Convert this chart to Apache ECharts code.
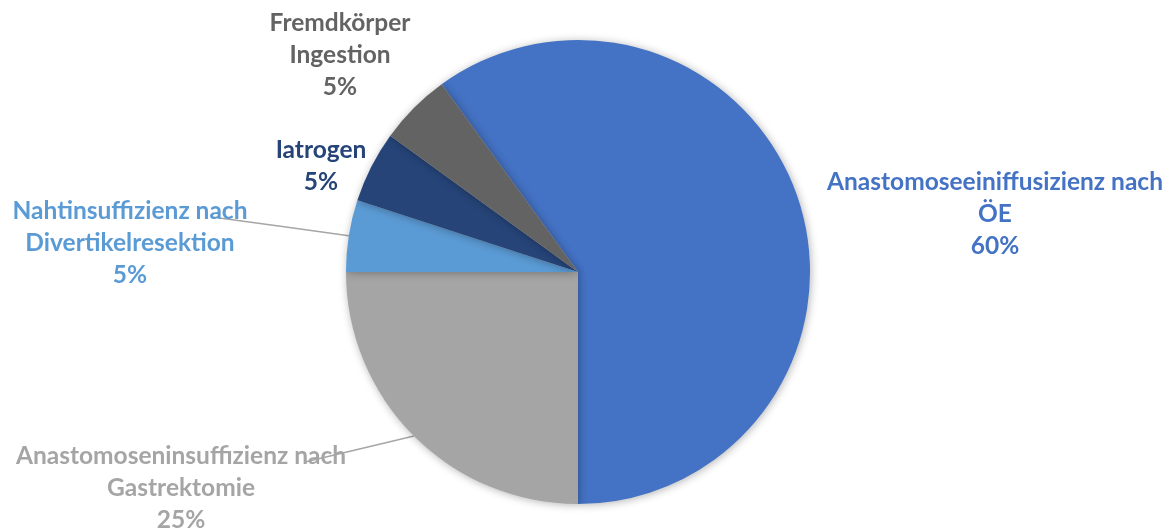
<!DOCTYPE html>
<html>
<head>
<meta charset="utf-8">
<script src="https://cdn.jsdelivr.net/npm/echarts@6/dist/echarts.min.js"></script>
<style>
  html, body { margin: 0; padding: 0; background: #fff; }
  #chart { width: 1170px; height: 530px; }
</style>
</head>
<body>
<div id="chart"></div>
<script>
var categories = [
  'Anastomoseeiniffusizienz nach\nÖE',
  'Anastomoseninsuffizienz nach\nGastrektomie',
  'Nahtinsuffizienz nach\nDivertikelresektion',
  'Iatrogen',
  'Fremdkörper\nIngestion'
];
var values = [60, 25, 5, 5, 5];
var colors = ['#4472C4', '#A5A5A5', '#5B9BD5', '#264478', '#636363'];
// where Excel put each label (centre of text block) and where its leader line stops
var labelPos = [[995, 214], [181, 488], [130, 243], [321, 166], [340, 55]];
var lineEnd = [null, [305, 462], [212, 217], null, null];

var chart = echarts.init(document.getElementById('chart'));

var data = [];
for (var i = 0; i < categories.length; i++) {
  data.push({
    name: categories[i],
    value: values[i],
    itemStyle: { color: colors[i] },
    label: { color: colors[i] },
    labelLine: { show: lineEnd[i] !== null }
  });
}

chart.setOption({
  animation: false,
  series: [
    {
      type: 'pie',
      center: [578, 272],
      radius: 232,
      startAngle: 126,
      clockwise: true,
      percentPrecision: 0,
      avoidLabelOverlap: false,
      itemStyle: {
        shadowBlur: 8,
        shadowColor: 'rgba(0,0,0,0.3)',
        shadowOffsetX: 1,
        shadowOffsetY: 1
      },
      label: {
        show: true,
        position: 'outside',
        formatter: function (p) { return p.name + '\n' + p.percent + '%'; },
        fontFamily: 'Lato',
        fontWeight: 'bold',
        fontSize: 24.5,
        lineHeight: 32,
        align: 'center'
      },
      labelLine: {
        lineStyle: { color: '#A6A6A6', width: 1.5 },
        length: 10,
        length2: 10
      },
      labelLayout: function (params) {
        var i = params.dataIndex;
        var p = labelPos[i];
        var out = { x: p[0], y: p[1], align: 'center', verticalAlign: 'middle' };
        if (lineEnd[i] && params.labelLinePoints) {
          var s = params.labelLinePoints[0];
          var e = lineEnd[i];
          out.labelLinePoints = [s, [(s[0] + e[0]) / 2, (s[1] + e[1]) / 2], e];
        }
        return out;
      },
      data: data
    }
  ]
});
</script>
</body>
</html>
